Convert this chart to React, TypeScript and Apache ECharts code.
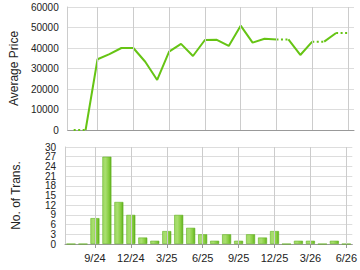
import React, { useEffect, useRef } from 'react';
import * as echarts from 'echarts';

const months = ['7/24', '8/24', '9/24', '10/24', '11/24', '12/24', '1/25', '2/25', '3/25', '4/25', '5/25', '6/25', '7/25', '8/25', '9/25', '10/25', '11/25', '12/25', '1/26', '2/26', '3/26', '4/26', '5/26', '6/26'];
const avgPrice = [0, 0, 34500, 37000, 40000, 40000, 33300, 24400, 38200, 42000, 36100, 43900, 44000, 41000, 50900, 42600, 44500, 44200, 44200, 36600, 43100, 43100, 47300, 47300];
const transactions = [0, 0, 8, 27, 13, 9, 2, 1, 4, 9, 5, 3, 1, 3, 1, 3, 2, 4, 0, 1, 1, 0, 1, 0];
const labelMonths = ['9/24', '12/24', '3/25', '6/25', '9/25', '12/25', '3/26', '6/26'];

const FONT = 'Liberation Sans, Arial, sans-serif';
const LINE_COLOR = '#66c414';

function runs(solid: boolean): number[][] {
  const out: number[][] = [];
  let cur: number[] | null = null;
  for (let i = 1; i < months.length; i++) {
    const isSolid = transactions[i] > 0;
    if (isSolid === solid) {
      if (cur && cur[cur.length - 1] === i - 1) cur.push(i);
      else {
        cur = [i - 1, i];
        out.push(cur);
      }
    } else {
      cur = null;
    }
  }
  return out;
}

export default function App() {
  const ref = useRef<HTMLDivElement>(null);
  useEffect(() => {
    if (!ref.current) return;
    const chart = echarts.init(ref.current, null, { renderer: 'svg' });
    const showIdx = (i: number) => labelMonths.includes(months[i]);
    const lineSeries: any[] = [];
    [true, false].forEach((solid) => {
      runs(solid).forEach((run) => {
        lineSeries.push({
          type: 'line',
          xAxisIndex: 0,
          yAxisIndex: 0,
          data: months.map((_, k) => (run.includes(k) ? avgPrice[k] : null)),
          showSymbol: false,
          symbol: 'none',
          connectNulls: false,
          lineStyle: { color: LINE_COLOR, width: 2, type: solid ? 'solid' : [2, 2.5] },
          z: 3,
        });
      });
    });
    const vGrid = (xi: number) => ({
      type: 'line',
      xAxisIndex: xi,
      yAxisIndex: xi,
      data: months.map(() => 0),
      symbol: 'none',
      showSymbol: false,
      lineStyle: { opacity: 0 },
      z: 1,
      silent: true,
      markLine: {
        silent: true,
        symbol: ['none', 'none'],
        label: { show: false },
        lineStyle: { color: '#cccccc', type: 'solid', width: 1 },
        data: labelMonths.map((m) => ({ xAxis: m })),
      },
    });
    const xAxisBase = {
      type: 'category',
      data: months,
      boundaryGap: true,
      axisLine: { show: true, lineStyle: { color: '#999999', width: 1 } },
      splitLine: { show: false },
    };
    const labelBase = {
      color: '#222',
      fontSize: 10,
      lineHeight: 9,
      fontFamily: FONT,
      margin: 9,
      hideOverlap: false,
      showMinLabel: true,
      showMaxLabel: true,
    };
    const yAxisBase = {
      type: 'value',
      min: 0,
      axisLine: { show: true, lineStyle: { color: '#cccccc' } },
      axisTick: { show: false },
      splitLine: { show: true, lineStyle: { color: '#dddddd', width: 1 } },
      axisLabel: { ...labelBase, formatter: (v: number) => String(v) },
      nameLocation: 'middle',
      nameTextStyle: { color: '#222', fontSize: 12, fontFamily: FONT },
    };
    chart.setOption({
      animation: false,
      backgroundColor: '#ffffff',
      grid: [
        { left: 65, right: 6, top: 7, height: 123 },
        { left: 65, right: 6, top: 147, height: 97 },
      ],
      xAxis: [
        {
          ...xAxisBase,
          gridIndex: 0,
          axisTick: { show: false },
          axisLabel: { show: false },
        },
        {
          ...xAxisBase,
          gridIndex: 1,
          axisTick: { show: true, alignWithLabel: true, interval: (i: number) => showIdx(i), length: 4, lineStyle: { color: '#999' } },
          axisLabel: { show: true, interval: (i: number) => showIdx(i), color: '#222', fontSize: 11, fontFamily: FONT, margin: 8, hideOverlap: false },
        },
      ],
      yAxis: [
        { ...yAxisBase, gridIndex: 0, max: 60000, interval: 10000, name: 'Average Price', nameGap: 43 },
        {
          ...yAxisBase,
          gridIndex: 1,
          max: 30,
          interval: 3,
          name: 'No. of Trans.',
          nameGap: 43,
          axisLabel: { ...labelBase, formatter: (v: number) => (v % 6 === 0 ? String(v) : '') },
        },
        {
          ...yAxisBase,
          gridIndex: 1,
          max: 30,
          interval: 3,
          position: 'left',
          offset: 0,
          axisLine: { show: false },
          splitLine: { show: false },
          axisLabel: { ...labelBase, formatter: (v: number) => (v % 6 === 3 ? String(v) : '') },
        },
      ],
      series: [
        vGrid(0),
        vGrid(1),
        ...lineSeries,
        {
          type: 'bar',
          xAxisIndex: 1,
          yAxisIndex: 1,
          data: transactions,
          barWidth: 9,
          z: 3,
          itemStyle: {
            color: new echarts.graphic.LinearGradient(0, 0, 1, 0, [
              { offset: 0, color: '#9fd963' },
              { offset: 0.35, color: '#a8de6e' },
              { offset: 0.75, color: '#84cc3c' },
              { offset: 1, color: '#5fae1e' },
            ]),
            borderColor: '#63b322',
            borderWidth: 0.6,
          },
        },
      ],
    });
    return () => chart.dispose();
  }, []);
  return <div ref={ref} style={{ position: 'absolute', left: 0, top: 0, width: 360, height: 270 }} />;
}
